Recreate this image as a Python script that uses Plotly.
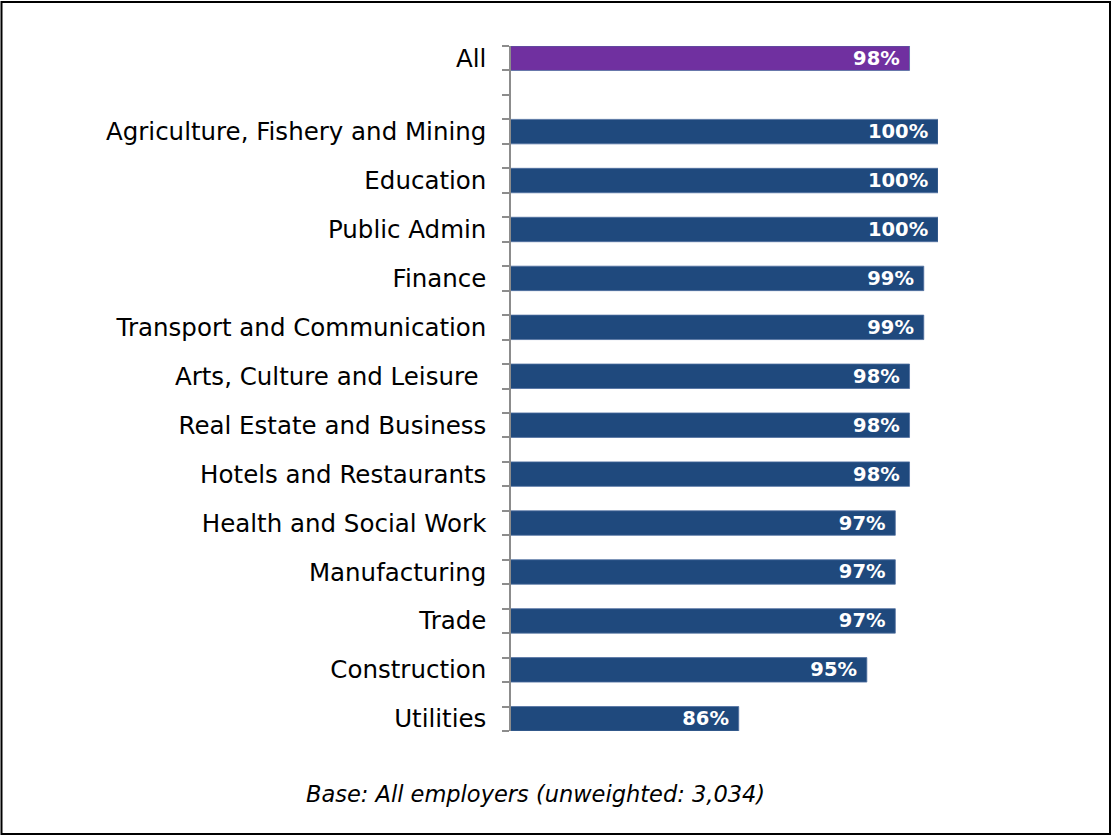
import plotly.graph_objects as go

categories = ["All", "Agriculture, Fishery and Mining", "Education", "Public Admin", "Finance",
              "Transport and Communication", "Arts, Culture and Leisure ", "Real Estate and Business",
              "Hotels and Restaurants", "Health and Social Work", "Manufacturing", "Trade",
              "Construction", "Utilities"]
values = [98, 100, 100, 100, 99, 99, 98, 98, 98, 97, 97, 97, 95, 86]
labels = ["98%", "100%", "100%", "100%", "99%", "99%", "98%", "98%", "98%", "97%", "97%", "97%", "95%", "86%"]
x_range = [70, 100]

# positions in half-slot units: "All" sits in the top half of the first slot,
# the rest in the bottom half of each subsequent slot
pos = [0.5] + [3.5 + 2 * i for i in range(len(categories) - 1)]
colors = ["#7030A0"] + ["#1F497D"] * (len(categories) - 1)

FONT = "DejaVu Sans, sans-serif"

fig = go.Figure(go.Bar(
    x=values, y=pos, orientation="h", width=1,
    marker=dict(color=colors, line=dict(color="#4F6F9F", width=0.8)),
    text=[t + "\u00a0" for t in labels], textposition="inside", insidetextanchor="end",
    constraintext="none",
    textfont=dict(family=FONT, size=19.5, color="white", weight="bold"),
    cliponaxis=True, hoverinfo="skip",
))

W, H = 1112, 837
L, R, T, B = 511, 174, 46, 106
pw, ph = W - L - R, H - T - B

fig.update_layout(
    width=W, height=H, margin=dict(l=L, r=R, t=T, b=B),
    paper_bgcolor="white", plot_bgcolor="white", showlegend=False,
    font=dict(family=FONT, size=24.5, color="black"),
    xaxis=dict(range=x_range, visible=False, fixedrange=True),
    yaxis=dict(range=[28, 0], tickvals=pos, ticktext=categories, ticks="", ticklen=0,
               showline=True, linecolor="#8C8C8C", linewidth=1.5, showgrid=False, zeroline=False,
               fixedrange=True,
               tickfont=dict(family=FONT, size=24.5, color="black"), ticklabelstandoff=18,
               minor=dict(ticks="outside", ticklen=7, tickcolor="#8C8C8C", tickwidth=1.5,
                          dtick=1, tick0=0, showgrid=False)),
    shapes=[dict(type="rect", xref="paper", yref="paper",
                 x0=(1.5 - L) / pw, x1=(W - 2 - L) / pw,
                 y0=(H - B - (H - 3)) / ph, y1=(H - B - 2) / ph,
                 line=dict(color="black", width=2))],
    annotations=[dict(text="Base: All employers (unweighted: 3,034)", xref="paper", yref="paper",
                      x=(535 - L) / pw, y=(H - B - 794) / ph, xanchor="center", yanchor="middle",
                      showarrow=False, font=dict(family=FONT, size=22.5, color="black", style="italic"))],
)

fig.write_html("out.html", config={"displayModeBar": False},
               post_script="document.body.style.margin='0';document.body.style.overflow='hidden';")
